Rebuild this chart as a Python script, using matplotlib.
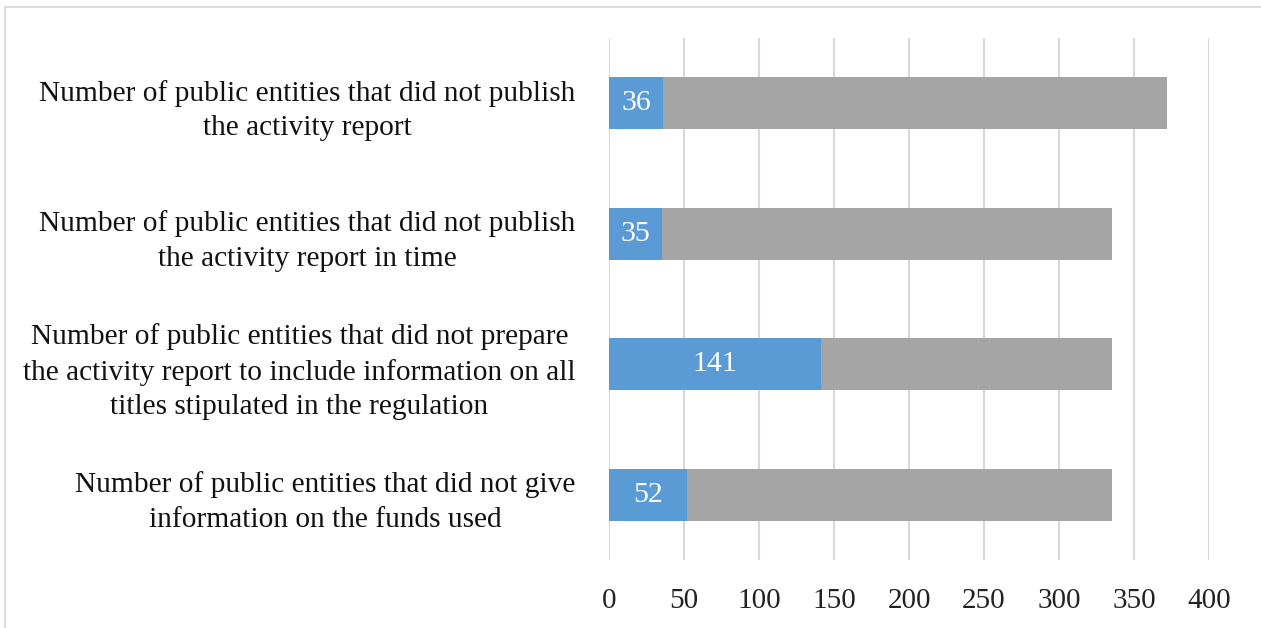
import matplotlib.pyplot as plt
from matplotlib.lines import Line2D

# categories, top to bottom
labels = [
    "Number of public entities that did not publish\nthe activity report",
    "Number of public entities that did not publish\nthe activity report in time",
    "Number of public entities that did not prepare\nthe activity report to include information on all\ntitles stipulated in the regulation",
    "Number of public entities that did not give\ninformation on the funds used",
]
not_done = [36, 35, 141, 52]
rest = [336, 300, 194, 283]
xticks = [0, 50, 100, 150, 200, 250, 300, 350, 400]

blue = "#5B9BD5"
gray = "#A5A5A5"

plt.rcParams["font.family"] = ["Liberation Serif", "DejaVu Serif"]

fig = plt.figure(figsize=(12.61, 6.28), dpi=100)
ax = fig.add_axes([0.483, 0.108, 0.4758, 0.8315])

ypos = list(range(len(labels)))
ax.barh(ypos, not_done, height=0.4, color=blue, zorder=3)
ax.barh(ypos, rest, left=not_done, height=0.4, color=gray, zorder=3)

for y, v in zip(ypos, not_done):
    ax.text(v / 2, y, str(v), ha="center", va="center", color="white", fontsize=21.5, zorder=4)

ax.set_ylim(3.5, -0.5)
ax.set_xlim(0, 400)
ax.set_xticks(xticks)
ax.set_yticks(ypos)
ax.set_yticklabels(labels, fontsize=21.2, color="#111111")
for lbl in ax.get_yticklabels():
    lbl.set_multialignment("center")
    lbl.set_linespacing(1.42)
ax.tick_params(axis="y", length=0, pad=24)
ax.tick_params(axis="x", length=0, pad=20, labelsize=21, labelcolor="#222222")

ax.grid(axis="x", color="#D9D9D9", linewidth=1.5, zorder=0)
for s in ax.spines.values():
    s.set_visible(False)

# outer chart frame (top and left edges visible)
fig.add_artist(Line2D([5 / 1261, 1], [1 - 7 / 628, 1 - 7 / 628], transform=fig.transFigure,
                      color="#DDDDDD", linewidth=1.5))
fig.add_artist(Line2D([5 / 1261, 5 / 1261], [0, 1 - 7 / 628], transform=fig.transFigure,
                      color="#DDDDDD", linewidth=1.5))

fig.savefig("out.png", dpi=100)
